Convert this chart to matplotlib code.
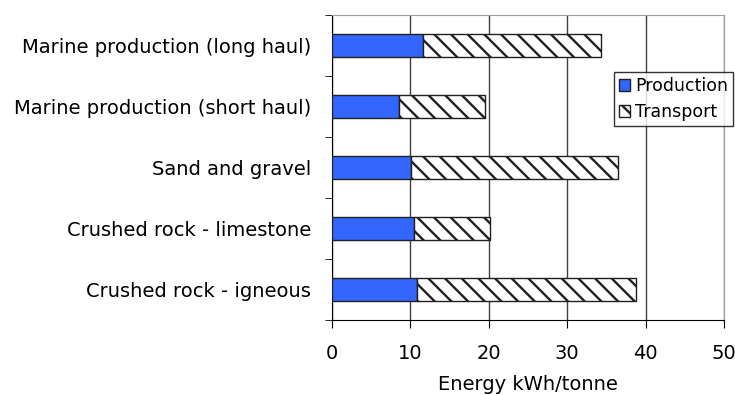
import matplotlib
matplotlib.use('Agg')
import matplotlib.pyplot as plt
import numpy as np

categories = ['Crushed rock - igneous', 'Crushed rock - limestone', 'Sand and gravel',
              'Marine production (short haul)', 'Marine production (long haul)']
production = [10.8, 10.5, 10.1, 8.5, 11.6]
totals = [38.8, 20.1, 36.5, 19.5, 34.3]
transport = [t - p for t, p in zip(totals, production)]

plt.rcParams['font.family'] = ['DejaVu Sans']
plt.rcParams['hatch.linewidth'] = 1.7

fig = plt.figure(figsize=(7.35, 3.95), dpi=100)
ax = fig.add_axes([332 / 735, 1 - 320 / 395, (724 - 332) / 735, (320 - 15) / 395])

y = np.arange(len(categories))
ax.barh(y, production, height=0.39, color='#3366FF', edgecolor='#202020', linewidth=1,
        label='Production', zorder=3)
ax.barh(y, transport, left=production, height=0.39, color='white', edgecolor='#202020',
        hatch='\\\\', linewidth=1, label='Transport', zorder=3)

ax.set_xlim(0, 50)
ax.set_ylim(-0.5, len(categories) - 0.5)
ax.set_xticks([0, 10, 20, 30, 40, 50])
ax.set_yticks(y)
ax.set_yticklabels(categories)
ax.set_yticks(np.arange(-0.5, len(categories), 1), minor=True)
ax.tick_params(axis='y', which='major', length=0, labelsize=14, pad=15)
ax.tick_params(axis='y', which='minor', length=5, direction='out')
ax.tick_params(axis='x', length=6, direction='out', labelsize=14, pad=11)
ax.xaxis.grid(True, color='#404040', linewidth=1, zorder=0)
ax.set_axisbelow(True)
for side in ['top', 'right']:
    ax.spines[side].set_color('#a0a0a0')
ax.spines['left'].set_color('black')
ax.spines['bottom'].set_color('black')
ax.set_xlabel('Energy kWh/tonne', fontsize=14, labelpad=9)

leg = ax.legend(loc='upper left', bbox_to_anchor=((614 - 332) / 392, 1 - (72 - 15) / 305),
                fontsize=12.5, frameon=True, fancybox=False, edgecolor='black',
                handlelength=0.65, handleheight=0.65, handletextpad=0.25,
                borderpad=0.3, labelspacing=0.45, borderaxespad=0)
leg.get_frame().set_linewidth(1)

plt.savefig('out.png', dpi=100)
plt.close()
